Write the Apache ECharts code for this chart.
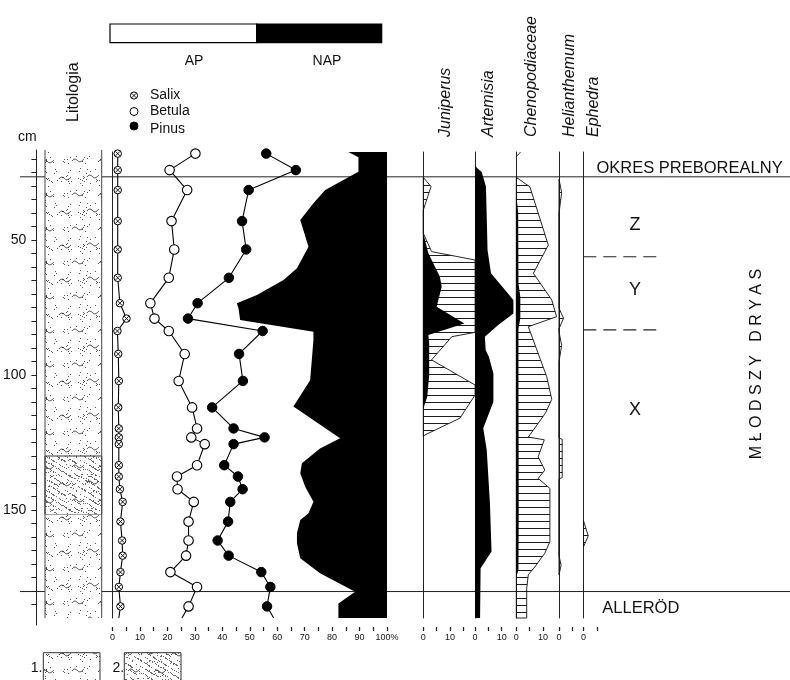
<!DOCTYPE html>
<html>
<head>
<meta charset="utf-8">
<script src="https://cdn.jsdelivr.net/npm/echarts@6/dist/echarts.min.js"></script>
<style>
  html, body { margin: 0; padding: 0; background: #fff; }
  #chart { width: 790px; height: 680px; }
</style>
</head>
<body>
<div id="chart"></div>
<script>
// ---- depth range of the section (cm) ----
const DEPTH_TOP = 17.4;
const DEPTH_BOTTOM = 190;

// ---- tree pollen samples (depth in cm, percentages) ----
const sampleDepth = [18, 24.1, 31.5, 43, 53.5, 64, 73.4, 79.1, 83.7, 92.2, 102.2, 112, 119.8, 123.1, 125.6, 133.4, 137.6, 142.3, 147, 154.3, 161.3, 166.9, 173, 178.5, 185.7];
const salix  = [1.9, 1.9, 1.9, 1.9, 1.9, 1.9, 2.7, 5.1, 1.8, 2.1, 2.3, 2.1, 2.3, 2.3, 2.3, 2.3, 2.3, 2.7, 3.7, 2.9, 3.5, 3.7, 2.9, 2.3, 2.9];
const betula = [30.2, 20.8, 27.2, 21.5, 22.5, 20.5, 13.8, 15.3, 20.5, 26.3, 24.1, 29.0, 30.8, 28.7, 33.6, 30.8, 23.5, 23.7, 29.6, 27.7, 27.7, 26.8, 21.1, 30.8, 27.7];
const pinus  = [56.0, 66.8, 49.6, 47.2, 48.7, 42.4, 31.0, 27.5, 54.7, 46.1, 47.5, 36.3, 44.1, 55.4, 44.1, 40.7, 45.7, 47.4, 42.9, 42.1, 38.3, 42.3, 54.2, 57.5, 56.3];
// values where the curves leave the base of the section
const salixBase = 2.3, betulaBase = 25.3, pinusBase = 58.7;
const treeTaxa = ['Salix', 'Betula', 'Pinus'];

// ---- AP / NAP boundary (AP %) ----
const apDepth = [17.4, 19.3, 24.7, 27.8, 31.5, 36.4, 42.6, 52.5, 60.5, 64.8, 70.4, 73.4, 75.3, 79.6, 84.0, 87.0, 101.9, 111.7, 123.4, 127.2, 132.7, 136.4, 141.4, 146.9, 151.2, 153.7, 158.6, 162.3, 167.9, 173.4, 180.3, 184.6, 190];
const apValue = [85.9, 89.6, 89.6, 84.1, 77.5, 73.2, 68.4, 71.4, 67.2, 62.3, 52.6, 45.3, 45.9, 46.5, 73.2, 73.2, 72.0, 65.9, 82.9, 75.6, 69.0, 68.4, 70.2, 73.2, 71.4, 68.4, 67.2, 67.2, 68.4, 75.6, 88.4, 82.3, 82.3];

// ---- herb / shrub curves (%) ----
const junHatchDepth = [26.8, 30.2, 38.9, 47.5, 54.3, 57.4, 84.2, 85.8, 94.4, 103.7, 107.4, 116.0, 122.2, 122.8];
const junHatchValue = [0, 2.9, 0, 0, 3.1, 19.4, 19.4, 10.7, 3.1, 19.4, 19.4, 13.7, 0.6, 0];
const junDepth = [47.5, 54.9, 63.6, 67.3, 74.7, 80.9, 85.2, 88.0, 100.0, 108.0, 112.5];
const junValue = [0, 1.9, 6.2, 6.9, 5.0, 15.4, 1.9, 2.2, 2.2, 1.5, 0];

const artDepth = [22.6, 24.8, 30.2, 41.4, 53.7, 62.3, 72.2, 77.2, 81.5, 85.8, 90.7, 93.2, 99.4, 109.9, 119.7, 127.8, 147.5, 165.4, 171.6, 190];
const artValue = [0, 2.5, 4.1, 4.4, 4.7, 6.0, 14.4, 14.4, 8.7, 3.7, 4.0, 5.2, 6.9, 6.9, 3.1, 4.4, 5.6, 6.2, 2.1, 1.9];

const chenHatchDepth = [26.8, 30.3, 51.9, 62.3, 72.2, 78.4, 82.1, 100.6, 109.0, 114.0, 123.0, 124.0, 130.3, 135.2, 138.3, 142.0, 161.7, 166.0, 171.0, 174.0, 179.0, 190];
const chenHatchValue = [0, 5.1, 12.0, 6.4, 13.3, 15.1, 4.5, 11.4, 13.3, 11.0, 4.5, 10.5, 8.2, 10.7, 8.2, 12.6, 12.6, 10.7, 7.0, 4.5, 3.9, 3.9];
const chenDepth = [33, 40, 66, 71, 79, 83, 100, 150, 172, 175];
const chenValue = [0, 0.7, 0.8, 1.5, 1.5, 0.8, 0.8, 0.9, 0.8, 0];
const chenTopDepth = [17.4, 19.1];
const chenTopValue = [1.6, 0];

const heliDepth = [27.5, 32.5, 40, 75.3, 79, 82.8, 84, 89, 95, 123.4, 123.8, 138, 138.5, 167, 170.4, 174];
const heliValue = [0, 1.0, 0, 0, 1.7, 0, 0, 1.0, 0, 0, 1.2, 1.2, 0, 0, 0.8, 0];

const ephDepth = [154, 159.6, 163.6];
const ephValue = [0, 1.7, 0];

const taxa = ['Juniperus', 'Artemisia', 'Chenopodiaceae', 'Helianthemum', 'Ephedra'];

// ---- lithology layers ----
const litTop    = [DEPTH_TOP, 130, 151.7];
const litBottom = [130, 151.7, DEPTH_BOTTOM];
const litType   = [1, 2, 1];

// ---- chronozones and local pollen zones ----
const chronoBounds = [26.6, 180.2];
const zoneBounds = [56.2, 83.3];
const zoneNames = ['Z', 'Y', 'X'];
const zoneLabelDepth = [44.4, 68.5, 113];

// ---- axis ticks ----
const depthTicks = []; for (let d = 20; d <= 185; d += 5) depthTicks.push(d);
const depthLabels = [50, 100, 150];
const pctTicks = []; for (let v = 0; v <= 100; v += 5) pctTicks.push(v);
const pctLabels = []; for (let v = 0; v <= 100; v += 10) pctLabels.push(v);

const FONT = '"Liberation Sans", Arial, Helvetica, sans-serif';
const INK = '#111';

// ---- fill textures ----
function hash(n) {
  n = Math.imul(n ^ 61 ^ (n >>> 16), 9);
  n = n ^ (n >>> 4);
  n = Math.imul(n, 0x27d4eb2d);
  n = n ^ (n >>> 15);
  return (n >>> 0) / 4294967296;
}
const hatchCanvas = (() => {
  const c = document.createElement('canvas'); c.width = 8; c.height = 7;
  const g = c.getContext('2d'); g.fillStyle = '#1c1c1c'; g.fillRect(0, 3, 8, 1);
  return c;
})();
const hatchFill = { image: hatchCanvas, repeat: 'repeat' };

function lithTexture(dense) {
  const w = 56, h = 34;
  const c = document.createElement('canvas'); c.width = w; c.height = h;
  const g = c.getContext('2d');
  g.fillStyle = '#fff'; g.fillRect(0, 0, w, h);
  const n = dense ? 330 : 70;
  g.fillStyle = dense ? '#6a6a6a' : '#555';
  for (let i = 0; i < n; i++) {
    const x = Math.floor(hash(i * 2 + 1 + (dense ? 999 : 0)) * w);
    const y = Math.floor(hash(i * 2 + 2 + (dense ? 999 : 0)) * h);
    g.fillRect(x, y, 1, 1);
  }
  g.strokeStyle = '#333'; g.lineWidth = 0.9;
  const marks = [[3, 8], [31, 6], [16, 24], [42, 25]];
  marks.forEach(([x, y]) => {
    g.beginPath();
    g.moveTo(x, y + 1);
    g.bezierCurveTo(x + 2, y - 2, x + 4, y - 1, x + 6, y + 1);
    g.bezierCurveTo(x + 8, y + 3, x + 10, y + 1, x + 12, y - 1);
    g.stroke();
  });
  return c;
}
const lithFills = [
  { image: lithTexture(false), repeat: 'repeat' },
  { image: lithTexture(true), repeat: 'repeat' }
];

// ---- layout of the panels ----
const TOP = 152, HEIGHT = 466;
const grids = [], xAxes = [], yAxes = [];
function depthY(show) {
  return {
    type: 'value', inverse: true, min: DEPTH_TOP, max: DEPTH_BOTTOM,
    axisLine: { show: show, onZero: false, lineStyle: { color: '#222', width: 1 } },
    axisTick: { show: false }, axisLabel: { show: false }, splitLine: { show: false }
  };
}
function hiddenX(max) {
  return { type: 'value', min: 0, max: max, show: false, splitLine: { show: false } };
}
function pctX(max, ticks, labels, fmt) {
  return {
    type: 'value', min: 0, max: max, position: 'bottom', offset: 9,
    axisLine: { show: false, onZero: false },
    axisTick: { show: true, inside: false, length: 4, customValues: ticks, lineStyle: { color: '#222', width: 1.3 } },
    axisLabel: { show: true, customValues: labels, fontSize: 9, fontFamily: FONT, color: INK, margin: 6,
      formatter: fmt || (v => String(v)) },
    splitLine: { show: false }
  };
}
function addGrid(left, width, x, y, top, height) {
  const i = grids.length;
  grids.push({ left: left, width: width, top: top === undefined ? TOP : top, height: height === undefined ? HEIGHT : height });
  x.gridIndex = i; y.gridIndex = i;
  xAxes.push(x); yAxes.push(y);
  return i;
}

const PX_CM = HEIGHT / (DEPTH_BOTTOM - DEPTH_TOP);
const gFrame = addGrid(20, 770, hiddenX(1), depthY(false));
const depthAxis = {
  type: 'value', inverse: true, min: DEPTH_TOP - 2 / PX_CM, max: DEPTH_BOTTOM + 7 / PX_CM, position: 'left',
  axisLine: { show: true, onZero: false, lineStyle: { color: '#222', width: 1 } },
  axisTick: { show: true, inside: false, length: 5, customValues: depthTicks, lineStyle: { color: '#222', width: 1 } },
  axisLabel: { show: true, customValues: depthLabels, fontSize: 14, fontFamily: FONT, color: INK, margin: 10 },
  splitLine: { show: false }
};
const gDepth = addGrid(36, 1, hiddenX(1), depthAxis, TOP - 2, HEIGHT + 9);
const gLith = addGrid(45, 56.7, hiddenX(1), depthY(false));
const gMain = addGrid(112.5, 274.5, pctX(100, pctTicks, pctLabels, v => v === 100 ? '100%' : String(v)), depthY(true));
const gJun = addGrid(423.3, 53.4, pctX(20, [0, 5, 10, 15], [0, 10]), depthY(true));
const gArt = addGrid(475, 40, pctX(15, [0, 5, 10], [0, 10]), depthY(true));
const gChen = addGrid(516.3, 40, pctX(15, [0, 5, 10], [0, 10]), depthY(true));
const gHeli = addGrid(559, 21.4, pctX(8, [0, 5], [0]), depthY(true));
const gEph = addGrid(583.5, 22.4, pctX(8, [0, 5], [0]), depthY(true));
const gZone = addGrid(583.3, 77, hiddenX(1), depthY(false));

// ---- series helpers ----
function polygonSeries(idx, depths, values, base, style, z) {
  return {
    type: 'custom', coordinateSystem: 'cartesian2d', xAxisIndex: idx, yAxisIndex: idx,
    data: [[base, depths[0]]], z: z, silent: true,
    renderItem: (p, api) => {
      const pts = depths.map((d, i) => api.coord([values[i], d]));
      pts.push(api.coord([base, depths[depths.length - 1]]), api.coord([base, depths[0]]));
      return { type: 'polygon', shape: { points: pts }, style: style };
    }
  };
}
const hatchStyle = { fill: hatchFill, stroke: '#111', lineWidth: 0.9 };
const blackStyle = { fill: '#000' };

function curve(values, base) {
  const d = sampleDepth.map((dep, i) => [values[i], dep]);
  d.push({ value: [base, DEPTH_BOTTOM], symbol: 'none' });
  return d;
}

const series = [];

// chronozone boundaries across the whole diagram
series.push({
  type: 'custom', coordinateSystem: 'cartesian2d', xAxisIndex: gFrame, yAxisIndex: gFrame, z: 1, silent: true,
  data: chronoBounds.map(d => [0, d]),
  renderItem: (p, api) => {
    const a = api.coord([0, api.value(1)]), b = api.coord([1, api.value(1)]);
    return { type: 'line', shape: { x1: a[0], y1: a[1], x2: b[0], y2: b[1] }, style: { stroke: '#222', lineWidth: 1 } };
  }
});

// lithology column
series.push({
  type: 'custom', coordinateSystem: 'cartesian2d', xAxisIndex: gLith, yAxisIndex: gLith, z: 3, silent: true,
  data: litTop.map((t, i) => [0, t]),
  renderItem: (p, api) => {
    const i = p.dataIndex;
    const a = api.coord([0, litTop[i]]), b = api.coord([1, litBottom[i]]);
    const typ = litType[i];
    return {
      type: 'rect', shape: { x: a[0], y: a[1], width: b[0] - a[0], height: b[1] - a[1] },
      style: { fill: lithFills[typ - 1], stroke: typ === 2 ? '#333' : null, lineWidth: 1 }
    };
  }
});
series.push({
  type: 'custom', coordinateSystem: 'cartesian2d', xAxisIndex: gLith, yAxisIndex: gLith, z: 4, silent: true,
  data: [[0, DEPTH_TOP]],
  renderItem: (p, api) => {
    const a = api.coord([0, DEPTH_TOP]), b = api.coord([1, DEPTH_BOTTOM]);
    const st = { stroke: '#444', lineWidth: 1 };
    return { type: 'group', children: [
      { type: 'line', shape: { x1: a[0], y1: a[1] - 2, x2: a[0], y2: b[1] }, style: st },
      { type: 'line', shape: { x1: b[0], y1: a[1] - 2, x2: b[0], y2: b[1] }, style: st }
    ] };
  }
});

// NAP share: filled from the AP curve to 100 %
series.push(polygonSeries(gMain, apDepth, apValue, 100, blackStyle, 2));

// tree pollen curves
series.push({
  name: 'Salix', type: 'line', xAxisIndex: gMain, yAxisIndex: gMain, z: 5, silent: true,
  data: curve(salix, salixBase), symbol: 'circle', symbolSize: 7.5,
  itemStyle: { color: '#fff', borderColor: '#000', borderWidth: 1 },
  lineStyle: { color: '#000', width: 1.1 }
});
series.push({
  type: 'custom', coordinateSystem: 'cartesian2d', xAxisIndex: gMain, yAxisIndex: gMain, z: 7, silent: true,
  data: sampleDepth.map((d, i) => [salix[i], d]),
  renderItem: (p, api) => {
    const c = api.coord([api.value(0), api.value(1)]), r = 2.3;
    const st = { stroke: '#000', lineWidth: 0.9 };
    return { type: 'group', children: [
      { type: 'line', shape: { x1: c[0] - r, y1: c[1] - r, x2: c[0] + r, y2: c[1] + r }, style: st },
      { type: 'line', shape: { x1: c[0] - r, y1: c[1] + r, x2: c[0] + r, y2: c[1] - r }, style: st }
    ] };
  }
});
series.push({
  name: 'Betula', type: 'line', xAxisIndex: gMain, yAxisIndex: gMain, z: 5, silent: true,
  data: curve(betula, betulaBase), symbol: 'circle', symbolSize: 9.5,
  itemStyle: { color: '#fff', borderColor: '#000', borderWidth: 1.1 },
  lineStyle: { color: '#000', width: 1.1 }
});
series.push({
  name: 'Pinus', type: 'line', xAxisIndex: gMain, yAxisIndex: gMain, z: 5, silent: true,
  data: curve(pinus, pinusBase), symbol: 'circle', symbolSize: 9.5,
  itemStyle: { color: '#000', borderColor: '#000', borderWidth: 1 },
  lineStyle: { color: '#000', width: 1.1 }
});

// herb and shrub panels
series.push(polygonSeries(gJun, junHatchDepth, junHatchValue, 0, hatchStyle, 3));
series.push(polygonSeries(gJun, junDepth, junValue, 0, blackStyle, 4));
series.push(polygonSeries(gArt, artDepth, artValue, 0, blackStyle, 4));
series.push(polygonSeries(gChen, chenHatchDepth, chenHatchValue, 0, hatchStyle, 3));
series.push(polygonSeries(gChen, chenDepth, chenValue, 0, blackStyle, 4));
series.push({
  type: 'line', xAxisIndex: gChen, yAxisIndex: gChen, z: 4, silent: true, symbol: 'none',
  data: chenTopDepth.map((d, i) => [chenTopValue[i], d]), lineStyle: { color: '#222', width: 0.9 }
});
series.push(polygonSeries(gHeli, heliDepth, heliValue, 0, hatchStyle, 3));
series.push(polygonSeries(gEph, ephDepth, ephValue, 0, hatchStyle, 3));

// local pollen zone boundaries and names
series.push({
  type: 'custom', coordinateSystem: 'cartesian2d', xAxisIndex: gZone, yAxisIndex: gZone, z: 3, silent: true,
  data: zoneBounds.map(d => [0, d]),
  renderItem: (p, api) => {
    const a = api.coord([0, api.value(1)]), b = api.coord([1, api.value(1)]);
    return { type: 'line', shape: { x1: a[0], y1: a[1], x2: b[0], y2: b[1] },
      style: { stroke: '#222', lineWidth: 1.2, lineDash: [13, 7] } };
  }
});
series.push({
  type: 'custom', coordinateSystem: 'cartesian2d', xAxisIndex: gZone, yAxisIndex: gZone, z: 3, silent: true,
  data: zoneLabelDepth.map(d => [0.67, d]),
  renderItem: (p, api) => {
    const c = api.coord([api.value(0), api.value(1)]);
    return { type: 'text', x: c[0], y: c[1],
      style: { text: zoneNames[p.dataIndex], font: '18px ' + FONT, fill: INK,
        textAlign: 'center', align: 'center', textVerticalAlign: 'middle', verticalAlign: 'middle' } };
  }
});

// ---- static annotations ----
function txt(text, x, y, size, opts) {
  opts = opts || {};
  return {
    type: 'text', x: x, y: y, rotation: opts.rot || 0, silent: true, z: 10,
    style: {
      text: text, fill: INK, font: (opts.italic ? 'italic ' : '') + size + 'px ' + FONT,
      textAlign: opts.align || 'center', align: opts.align || 'center',
      textVerticalAlign: 'middle', verticalAlign: 'middle'
    }
  };
}
const graphic = [];
// AP / NAP bar
graphic.push({ type: 'rect', shape: { x: 110, y: 24, width: 146.7, height: 18.7 }, style: { fill: '#fff', stroke: '#000', lineWidth: 1.2 }, silent: true });
graphic.push({ type: 'rect', shape: { x: 256.7, y: 24, width: 125, height: 18.7 }, style: { fill: '#000', stroke: '#000', lineWidth: 1.2 }, silent: true });
graphic.push(txt('AP', 194, 61, 14));
graphic.push(txt('NAP', 327, 61, 14));

// tree legend
const legendY = [95.5, 111.5, 126];
treeTaxa.forEach((name, i) => {
  const cx = 134, cy = legendY[i];
  if (i === 0) {
    graphic.push({ type: 'circle', shape: { cx: cx, cy: cy, r: 3.6 }, style: { fill: '#fff', stroke: '#000', lineWidth: 1 }, silent: true });
    graphic.push({ type: 'line', shape: { x1: cx - 2.3, y1: cy - 2.3, x2: cx + 2.3, y2: cy + 2.3 }, style: { stroke: '#000', lineWidth: 0.9 }, silent: true });
    graphic.push({ type: 'line', shape: { x1: cx - 2.3, y1: cy + 2.3, x2: cx + 2.3, y2: cy - 2.3 }, style: { stroke: '#000', lineWidth: 0.9 }, silent: true });
  } else {
    graphic.push({ type: 'circle', shape: { cx: cx, cy: cy, r: 4 }, style: { fill: i === 1 ? '#fff' : '#000', stroke: '#000', lineWidth: 1 }, silent: true });
  }
  graphic.push(txt(name, 150, i === 2 ? cy + 3.5 : cy, 14, { align: 'left' }));
});

graphic.push(txt('Litologia', 74, 122, 16, { rot: Math.PI / 2, align: 'left' }));
graphic.push(txt('cm', 18, 137, 14, { align: 'left' }));

// taxon names
const taxaX = [445.6, 488.3, 531.7, 570, 594];
taxa.forEach((t, i) => graphic.push(txt(t, taxaX[i], 137, 16, { rot: Math.PI / 2, align: 'left', italic: true })));

graphic.push(txt('OKRES PREBOREALNY', 596.5, 168.5, 16.5, { align: 'left' }));
graphic.push(txt('ALLERÖD', 602.3, 608.5, 16.5, { align: 'left' }));
graphic.push(txt('M Ł O D S Z Y   D R Y A S', 757, 364, 16, { rot: Math.PI / 2 }));

// lithology key
graphic.push(txt('1.', 36.5, 668, 14));
graphic.push({ type: 'rect', shape: { x: 43.3, y: 652.7, width: 56.7, height: 32 }, style: { fill: lithFills[0], stroke: '#333', lineWidth: 1 }, silent: true });
graphic.push(txt('2.', 118.3, 668, 14));
graphic.push({ type: 'rect', shape: { x: 124.3, y: 652.7, width: 56.7, height: 32 }, style: { fill: lithFills[1], stroke: '#333', lineWidth: 1 }, silent: true });

const chart = echarts.init(document.getElementById('chart'), null, { renderer: 'canvas', devicePixelRatio: 1 });
chart.setOption({
  animation: false,
  backgroundColor: '#fff',
  grid: grids,
  xAxis: xAxes,
  yAxis: yAxes,
  series: series,
  graphic: graphic
});
</script>
</body>
</html>
